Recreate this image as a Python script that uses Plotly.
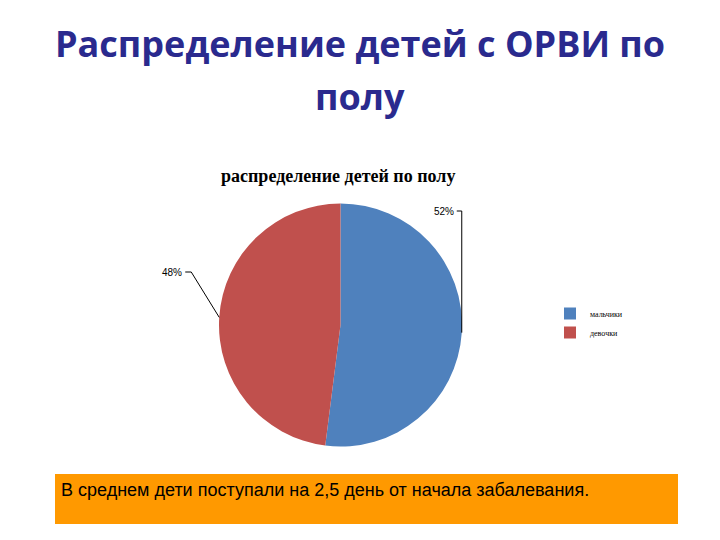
import math
import plotly.graph_objects as go

# Data
categories = ["мальчики", "девочки"]
values = [52, 48]
colors = ["#4F81BD", "#C0504D"]
title_lines = ["Распределение детей с ОРВИ по", "полу"]
chart_title = "распределение детей по полу"
note_text = "В среднем дети поступали на 2,5 день от начала забалевания."

W, H = 720, 540
OFF = 8  # page body margin
# pie geometry (pixels in screenshot)
cx, cy, r = 340.5, 325, 121.5

def px(x):
    return (x - OFF) / W

def py(y):
    return 1 - (y - OFF) / H

fig = go.Figure()
fig.add_trace(go.Pie(
    labels=categories, values=values, sort=False, direction="clockwise", rotation=0,
    marker=dict(colors=colors, line=dict(width=0)),
    textinfo="none", hoverinfo="label+percent",
    domain=dict(x=[px(cx - r), px(cx + r)], y=[py(cy + r), py(cy - r)]),
    showlegend=True,
))

total = sum(values)
cum = 0
shapes = []
annotations = []
label_y = [211, 272]
for i, v in enumerate(values):
    mid = (cum + v / 2) / total * 2 * math.pi
    cum += v
    ax = cx + r * math.sin(mid)
    ay = cy - r * math.cos(mid)
    pct = f"{round(v / total * 100)}%"
    ly = label_y[i]
    if math.sin(mid) >= 0:
        kx = ax
        ex = kx - 5
    else:
        kx = ax - 28
        ex = kx - 6
    path = f"M {px(ax)},{py(ay)} L {px(kx)},{py(ly)} L {px(ex)},{py(ly)}"
    annotations.append(dict(x=px(ex - 1), y=py(ly), xref="paper", yref="paper", text=pct,
                            showarrow=False, xanchor="right", yanchor="middle",
                            font=dict(family="Liberation Sans", size=10, color="#000")))
    shapes.append(dict(type="path", path=path, xref="paper", yref="paper",
                       line=dict(color="#000", width=1)))

# orange note box
shapes.append(dict(type="rect", xref="paper", yref="paper", x0=px(55), x1=px(678), y0=py(524), y1=py(474),
                   fillcolor="#FF9900", line=dict(width=0), layer="below"))

for txt, yy in zip(title_lines, [44, 97]):
    annotations.append(dict(x=px(360), y=py(yy), xref="paper", yref="paper", text=f"<b>{txt}</b>",
                            showarrow=False, xanchor="center", yanchor="middle",
                            font=dict(family="Open Sans", size=36, color="#2A2A8E")))

annotations += [
    dict(x=px(338), y=py(176), xref="paper", yref="paper", text=f"<b>{chart_title}</b>", showarrow=False,
         xanchor="center", yanchor="middle",
         font=dict(family="Liberation Serif", size=18, color="#000")),
    dict(x=px(59), y=py(490), xref="paper", yref="paper", text=note_text, showarrow=False,
         xanchor="left", yanchor="middle",
         font=dict(family="Liberation Sans", size=18, color="#000")),
]

fig.update_layout(
    width=W, height=H, margin=dict(l=0, r=0, t=0, b=0),
    paper_bgcolor="white", plot_bgcolor="white",
    shapes=shapes, annotations=annotations,
    legend=dict(x=px(550), y=py(299), xanchor="left", yanchor="top",
                font=dict(family="Liberation Serif", size=8, color="#000"),
                itemwidth=30, tracegroupgap=8, bgcolor="rgba(0,0,0,0)"),
)

fig.write_html("out.html")
